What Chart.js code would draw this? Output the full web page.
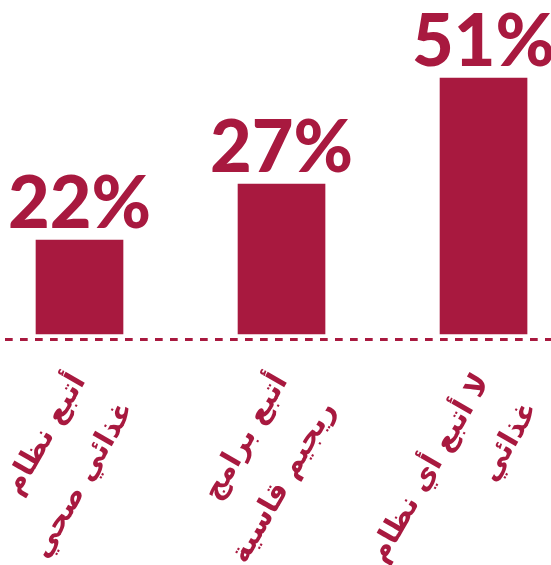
<!DOCTYPE html>
<html><head><meta charset="utf-8">
<script src="https://cdn.jsdelivr.net/npm/chart.js@4"></script>
<style>html,body{margin:0;padding:0;background:#fff}#wrap{width:551px;height:565px;position:relative}</style>
</head><body><div id="wrap"><canvas id="c"></canvas></div>
<script>
// Category labels (two lines each)
const categories = [
  ["أتبع نظام", "غذائي صحي"],
  ["أتبع برامج", "ريجيم قاسية"],
  ["لا أتبع أي نظام", "غذائي"]
];
// Percentages printed above the bars
const percentLabels = [22, 27, 51];
// Bar heights as drawn in the picture (same units as the 51% bar)
const barHeights = [18.7, 29.9, 51];
// Category positions on the x axis
const positions = [0, 1, 2];

const COLOR = '#A8193F';

const pctPlugin = {
  id: 'pct',
  afterDatasetsDraw(chart) {
    const ctx = chart.ctx;
    const meta = chart.getDatasetMeta(0);
    ctx.save();
    ctx.font = '900 72px Lato';
    ctx.fillStyle = COLOR;
    ctx.textAlign = 'center';
    ctx.textBaseline = 'alphabetic';
    meta.data.forEach((bar, i) => {
      ctx.fillText(percentLabels[i] + '%', bar.x, bar.y - 12);
    });
    ctx.restore();
  }
};

new Chart(document.getElementById('c'), {
  type: 'bar',
  data: {
    datasets: [{
      data: positions.map((p, i) => ({ x: p, y: barHeights[i] })),
      backgroundColor: COLOR,
      barThickness: 87,
      borderWidth: 0
    }]
  },
  options: {
    responsive: true,
    maintainAspectRatio: false,
    animation: false,
    layout: { padding: { top: 33, left: 5, right: 0, bottom: 0 } },
    plugins: { legend: { display: false }, tooltip: { enabled: false } },
    scales: {
      x: {
        type: 'linear',
        offset: false,
        min: -0.3688,
        max: 2.334,
        grid: { display: false, drawTicks: false },
        border: { display: false },
        ticks: {
          stepSize: 1,
          autoSkip: false,
          minRotation: 60,
          maxRotation: 60,
          padding: 24,
          color: COLOR,
          font: { family: 'DejaVu Sans', size: 29, weight: 'bold', lineHeight: 1.9 },
          callback: (v) => Number.isInteger(v) && v >= 0 && v < categories.length ? categories[v] : ''
        },
        afterFit(scale) {
          scale.height = 226;
          scale.paddingLeft = 0;
          scale.paddingRight = 0;
        }
      },
      y: {
        display: true,
        min: -1,
        max: 60,
        ticks: { display: false, stepSize: 61 },
        border: { display: false, dash: [7.7, 7.3] },
        grid: {
          drawTicks: false,
          lineWidth: 3,
          color: (ctx) => (ctx.tick && ctx.tick.value === -1 ? COLOR : 'rgba(0,0,0,0)')
        },
        afterFit(scale) { scale.width = 0; }
      }
    }
  },
  plugins: [pctPlugin]
});
</script>
</body></html>
